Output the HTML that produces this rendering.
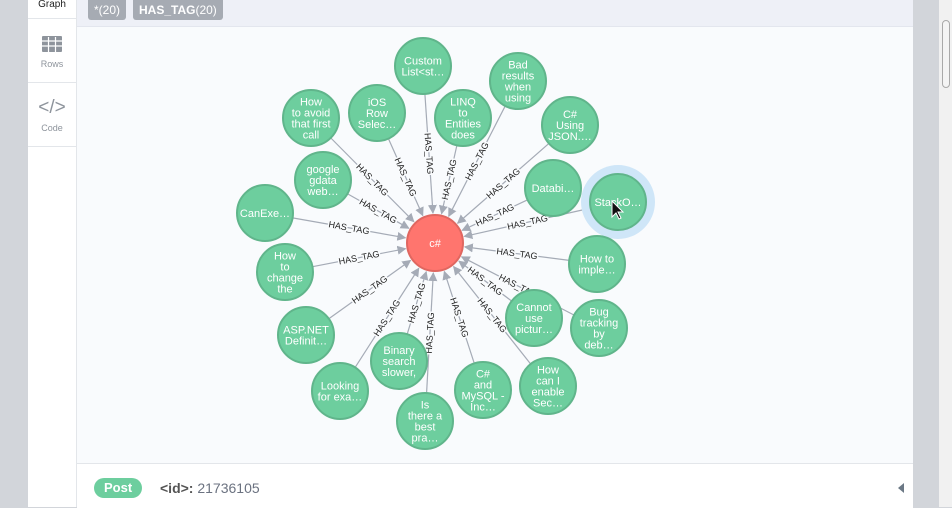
<!DOCTYPE html>
<html><head><meta charset="utf-8">
<style>
html,body{margin:0;padding:0;width:952px;height:507px;overflow:hidden;font-family:"Liberation Sans",sans-serif;background:#d2d5da}
#left{position:absolute;left:0;top:0;width:28px;height:507px;background:#d2d5da}
#side{position:absolute;left:28px;top:0;width:48px;height:507px;background:#fff;border-right:1px solid #e3e6ea}
.tab{position:absolute;left:0;width:48px;text-align:center;font-size:9px;color:#8e949c}
.sep{position:absolute;left:0;width:48px;height:1px;background:#e3e6ea}
#top{position:absolute;left:77px;top:0;width:836px;height:26px;background:#eef0f7;border-bottom:1px solid #e3e6ee}
.chip{position:absolute;top:0;height:20px;line-height:20px;background:#a6abb3;color:#fff;font-size:12px;border-radius:0 0 3px 3px;padding:0 6px}
#graph{position:absolute;left:77px;top:27px;width:836px;height:436px;background:#f9fbfd}
#foot{position:absolute;left:77px;top:463px;width:836px;height:44px;background:#fff;border-top:1px solid #e3e6ea}
#rgrey{position:absolute;left:913px;top:0;width:26px;height:507px;background:#d2d5da}
#sb{position:absolute;left:939px;top:0;width:13px;height:507px;background:#f1f1f1}
#thumb{position:absolute;left:942px;top:20px;width:8px;height:68px;border:1px solid #a9a9a9;border-radius:4px;background:#f4f4f4;box-sizing:border-box}
svg text{font-family:"Liberation Sans",sans-serif}
</style></head><body>
<div id="left"></div>
<div id="side">
  <div class="tab" style="top:-1px;color:#222;font-size:10px">Graph</div>
  <div class="sep" style="top:18px"></div>
  <div class="tab" style="top:35px;height:40px">
    <svg width="22" height="18" viewBox="0 0 22 18" style="display:block;margin:0 auto"><rect x="1" y="1" width="20" height="16" rx="1" fill="#8e949c"/><g stroke="#fff" stroke-width="1.2"><line x1="1" y1="6" x2="21" y2="6"/><line x1="1" y1="11" x2="21" y2="11"/><line x1="7.5" y1="2" x2="7.5" y2="17"/><line x1="14.5" y1="2" x2="14.5" y2="17"/></g></svg>
    <div style="margin-top:6px">Rows</div></div>
  <div class="sep" style="top:82px"></div>
  <div class="tab" style="top:97px">
    <div style="font-size:19px;color:#8e949c;line-height:22px">&lt;/&gt;</div>
    <div style="margin-top:4px">Code</div></div>
  <div class="sep" style="top:146px"></div>
</div>
<div id="top">
  <div class="chip" style="left:11px">*(20)</div>
  <div class="chip" style="left:56px"><b>HAS_TAG</b>(20)</div>
</div>
<div id="graph">
<svg id="g" width="836" height="436" viewBox="77 27 836 436"></svg>
</div>
<div id="foot">
  <div style="position:absolute;left:17px;top:14px;height:20px;line-height:20px;padding:0 10px;background:#6dce9e;color:#fff;font-weight:bold;font-size:13px;border-radius:10px">Post</div>
  <div style="position:absolute;left:83px;top:16px;font-size:14px;color:#6b7280"><b style="color:#555">&lt;id&gt;:</b> 21736105</div>
  <div style="position:absolute;left:821px;top:19px;width:0;height:0;border-top:5px solid transparent;border-bottom:5px solid transparent;border-right:6px solid #6b7885"></div>
</div>
<div id="rgrey"></div>
<div id="sb"></div>
<div id="thumb"></div>
<script>
const centerNode = {label:"c#", x:435, y:243};
const nodeLabels = [
 ["Custom","List<st…"],["Bad","results","when","using"],["How","to avoid","that first","call"],["iOS","Row","Selec…"],
 ["LINQ","to","Entities","does"],["C#","Using","JSON.…"],["google","gdata","web…"],["CanExe…"],
 ["Databi…"],["StackO…"],["How","to","change","the"],["How to","imple…"],
 ["ASP.NET","Definit…"],["Cannot","use","pictur…"],["Bug","tracking","by","deb…"],["Binary","search","slower,"],
 ["Looking","for exa…"],["C#","and","MySQL -","Inc…"],["How","can I","enable","Sec…"],["Is","there a","best","pra…"]
];
const nodeX = [423,518,311,377,463,570,323,265,553,618,285,597,306,534,599,399,340,483,548,425];
const nodeY = [66,81,118,113,118,125,180,213,188,202,272,264,335,318,328,361,391,390,386,421];
const relType = "HAS_TAG";
const selectedIndex = 9;
const R = 28, CR = 28;
const svg = document.getElementById('g');
const NS = 'http://www.w3.org/2000/svg';
function mk(t, a){const e=document.createElementNS(NS,t);for(const k in a)e.setAttribute(k,a[k]);return e;}
const defs = mk('defs',{});
const mkr = mk('marker',{id:'arr',viewBox:'0 0 10 10',refX:'9',refY:'5',markerWidth:'9',markerHeight:'9',markerUnits:'userSpaceOnUse',orient:'auto'});
mkr.appendChild(mk('path',{d:'M0,0 L10,5 L0,10 z',fill:'#a5abb6'}));
defs.appendChild(mkr); svg.appendChild(defs);
nodeX.forEach((nx,i)=>{
  const ny=nodeY[i], dx=centerNode.x-nx, dy=centerNode.y-ny, L=Math.hypot(dx,dy), ux=dx/L, uy=dy/L;
  const sx=nx+ux*R, sy=ny+uy*R, ex=centerNode.x-ux*(CR+2), ey=centerNode.y-uy*(CR+2);
  const line=mk('line',{x1:sx,y1:sy,x2:ex,y2:ey,stroke:'#a5abb6','stroke-width':1.2,'marker-end':'url(#arr)'});
  
  
  svg.appendChild(line);
  const mx=(sx+ex)/2, my=(sy+ey)/2;
  let ang=Math.atan2(dy,dx)*180/Math.PI; if(ang>90)ang-=180; if(ang<-90)ang+=180;
  const t=mk('text',{x:mx,y:my+3,'font-size':9,'text-anchor':'middle',fill:'#222',transform:`rotate(${ang} ${mx} ${my})`,stroke:'#f9fbfd','stroke-width':3,'paint-order':'stroke'});
  t.textContent=relType;
  
  
  svg.appendChild(t);
});
function drawNode(x,y,r,fill,stroke,lines,name){
  const g=mk('g',{});
  
  
  g.appendChild(mk('circle',{cx:x,cy:y,r:r,fill:fill,stroke:stroke,'stroke-width':2}));
  const lh=11, y0=y-(lines.length-1)*lh/2+4;
  lines.forEach((s,k)=>{const t=mk('text',{x:x,y:y0+k*lh,'font-size':11,'text-anchor':'middle',fill:'#fff'});t.textContent=s;g.appendChild(t);});
  svg.appendChild(g);
}
svg.appendChild(mk('circle',{cx:nodeX[selectedIndex],cy:nodeY[selectedIndex],r:37,fill:'#cfe6f8'}));
nodeX.forEach((nx,i)=>drawNode(nx,nodeY[i],R,'#6dce9e','#60b58b',nodeLabels[i],'post-node'));
drawNode(centerNode.x,centerNode.y,CR,'#ff756e','#e06760',[centerNode.label],'tag-node-csharp');
const cur=mk('path',{d:'M612,201 l0,16 l4,-4 l3,6 l2,-1 l-3,-6 l5,0 z',fill:'#111',stroke:'#fff','stroke-width':1});


svg.appendChild(cur);
</script>
</body></html>
